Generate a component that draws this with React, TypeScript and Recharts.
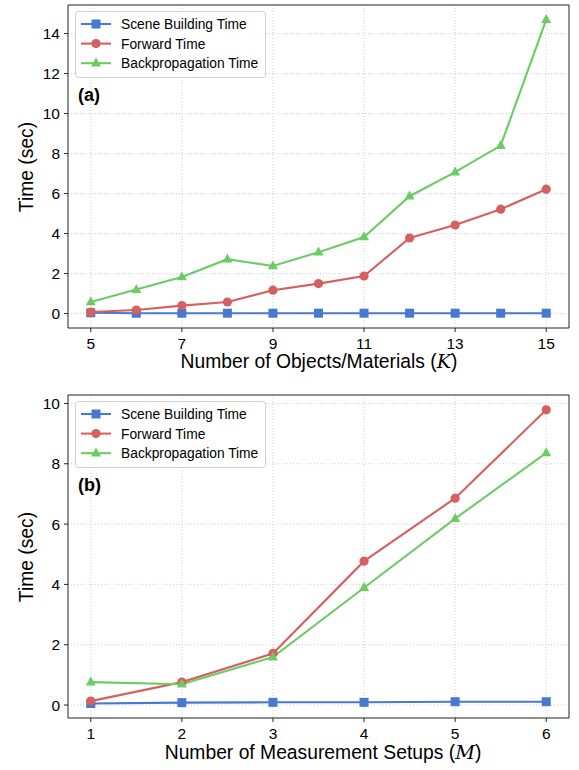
import React from 'react';
import { LineChart, Line, XAxis, YAxis, CartesianGrid, ReferenceLine } from 'recharts';

// ---- Panel (a): number of objects/materials K ----
const objectCounts = [5, 6, 7, 8, 9, 10, 11, 12, 13, 14, 15];
const sceneTimeA = [0.04, 0.02, 0.02, 0.02, 0.02, 0.02, 0.02, 0.02, 0.02, 0.02, 0.02];
const forwardTimeA = [0.08, 0.18, 0.4, 0.58, 1.17, 1.5, 1.88, 3.78, 4.43, 5.22, 6.22];
const backpropTimeA = [0.58, 1.2, 1.83, 2.72, 2.38, 3.07, 3.83, 5.87, 7.07, 8.4, 14.7];
const xTicksA = [5, 7, 9, 11, 13, 15];
const yTicksA = [0, 2, 4, 6, 8, 10, 12, 14];

// ---- Panel (b): number of measurement setups M ----
const setupCounts = [1, 2, 3, 4, 5, 6];
const sceneTimeB = [0.05, 0.08, 0.09, 0.09, 0.11, 0.11];
const forwardTimeB = [0.13, 0.76, 1.71, 4.77, 6.86, 9.79];
const backpropTimeB = [0.76, 0.69, 1.59, 3.89, 6.18, 8.36];
const xTicksB = [1, 2, 3, 4, 5, 6];
const yTicksB = [0, 2, 4, 6, 8, 10];

const seriesNames = ['Scene Building Time', 'Forward Time', 'Backpropagation Time'];

const BLUE = '#4878d0';
const RED = '#d65f5f';
const GREEN = '#6acc64';
const FONT = '"Liberation Sans", Arial, sans-serif';

const dataA = objectCounts.map((k, i) => ({
  x: k,
  scene: sceneTimeA[i],
  forward: forwardTimeA[i],
  backprop: backpropTimeA[i],
}));
const dataB = setupCounts.map((m, i) => ({
  x: m,
  scene: sceneTimeB[i],
  forward: forwardTimeB[i],
  backprop: backpropTimeB[i],
}));

const squareDot = (color: string) => (props: any) => {
  const { cx, cy, index } = props;
  if (cx == null || cy == null) return <g key={`s${index}`} />;
  return <rect key={`s${index}`} x={cx - 4.5} y={cy - 4.5} width={9} height={9} fill={color} />;
};
const circleDot = (color: string) => (props: any) => {
  const { cx, cy, index } = props;
  if (cx == null || cy == null) return <g key={`c${index}`} />;
  return <circle key={`c${index}`} cx={cx} cy={cy} r={4.6} fill={color} />;
};
const triDot = (color: string) => (props: any) => {
  const { cx, cy, index } = props;
  if (cx == null || cy == null) return <g key={`t${index}`} />;
  const r = 5.6;
  const pts = `${cx},${cy - r} ${cx - r * 0.9},${cy + r * 0.6} ${cx + r * 0.9},${cy + r * 0.6}`;
  return <polygon key={`t${index}`} points={pts} fill={color} />;
};

const TICK_FS = 15.5;
const FRAME = '#222';

const XTick = (props: any) => {
  const { x, y, payload } = props;
  return (
    <text x={x} y={y + 12} textAnchor="middle" fontSize={TICK_FS} fontFamily={FONT} fill="#000">
      {payload.value}
    </text>
  );
};
const YTick = (props: any) => {
  const { x, y, payload } = props;
  return (
    <text x={x} y={y + 5.5} textAnchor="end" fontSize={TICK_FS} fontFamily={FONT} fill="#000">
      {payload.value}
    </text>
  );
};

function Panel({ data, xDomain, xTicks, yDomain, yTicks }: any) {
  return (
    <LineChart
      width={579}
      height={380}
      data={data}
      margin={{ top: 5, right: 10, bottom: 18, left: 20 }}
    >
      <CartesianGrid
        stroke="#c8c8c8"
        strokeDasharray="1 2"
        strokeWidth={0.9}
        horizontalValues={yTicks}
        verticalValues={xTicks}
      />
      <XAxis
        dataKey="x"
        type="number"
        domain={xDomain}
        ticks={xTicks}
        allowDataOverflow
        tickSize={4}
        tickMargin={5}
        tick={<XTick />}
        stroke={FRAME}
        height={34}
        interval={0}
      />
      <YAxis
        type="number"
        domain={yDomain}
        ticks={yTicks}
        allowDataOverflow
        tickSize={4}
        tickMargin={4}
        tick={<YTick />}
        stroke={FRAME}
        width={48}
        interval={0}
      />
      <ReferenceLine y={yDomain[1]} stroke={FRAME} strokeWidth={1} ifOverflow="extendDomain" />
      <ReferenceLine x={xDomain[1]} stroke={FRAME} strokeWidth={1} ifOverflow="extendDomain" />
      <Line
        dataKey="scene"
        stroke={BLUE}
        strokeWidth={2.1}
        dot={squareDot(BLUE)}
        activeDot={false}
        isAnimationActive={false}
      />
      <Line
        dataKey="forward"
        stroke={RED}
        strokeWidth={2.1}
        dot={circleDot(RED)}
        activeDot={false}
        isAnimationActive={false}
      />
      <Line
        dataKey="backprop"
        stroke={GREEN}
        strokeWidth={2.1}
        dot={triDot(GREEN)}
        activeDot={false}
        isAnimationActive={false}
      />
    </LineChart>
  );
}

function LegendBox({ top }: { top: number }) {
  const rows = [
    { name: seriesNames[0], color: BLUE, kind: 'square' },
    { name: seriesNames[1], color: RED, kind: 'circle' },
    { name: seriesNames[2], color: GREEN, kind: 'tri' },
  ];
  return (
    <g>
      <rect x={75.5} y={top + 11.5} width={190} height={66} rx={3} fill="rgba(255,255,255,0.85)" stroke="#d0d0d0" />
      {rows.map((r, i) => {
        const cy = top + 24 + i * 19.6;
        const mx = 96;
        let marker;
        if (r.kind === 'square') marker = <rect x={mx - 4.5} y={cy - 4.5} width={9} height={9} fill={r.color} />;
        else if (r.kind === 'circle') marker = <circle cx={mx} cy={cy} r={4.6} fill={r.color} />;
        else {
          const rr = 5.6;
          marker = (
            <polygon
              points={`${mx},${cy - rr} ${mx - rr * 0.9},${cy + rr * 0.6} ${mx + rr * 0.9},${cy + rr * 0.6}`}
              fill={r.color}
            />
          );
        }
        return (
          <g key={r.name}>
            <line x1={81} x2={111} y1={cy} y2={cy} stroke={r.color} strokeWidth={2.1} />
            {marker}
            <text x={121} y={cy + 5} fontSize={13.8} fontFamily={FONT} fill="#000">
              {r.name}
            </text>
          </g>
        );
      })}
    </g>
  );
}

const axisLabel = 19.3;

export default function App() {
  return (
    <div style={{ position: 'absolute', left: 0, top: 0, width: 579, height: 770, background: '#fff' }}>
      <div style={{ position: 'absolute', left: 0, top: 0 }}>
        <Panel data={dataA} xDomain={[4.5, 15.5]} xTicks={xTicksA} yDomain={[-0.72, 15.43]} yTicks={yTicksA} />
      </div>
      <div style={{ position: 'absolute', left: 0, top: 390 }}>
        <Panel data={dataB} xDomain={[0.75, 6.25]} xTicks={xTicksB} yDomain={[-0.43, 10.28]} yTicks={yTicksB} />
      </div>
      <svg
        width={579}
        height={770}
        style={{ position: 'absolute', left: 0, top: 0, pointerEvents: 'none' }}
      >
        <LegendBox top={0} />
        <LegendBox top={390} />
        <text x={78} y={101} fontSize={18} fontWeight="bold" fontFamily={FONT} fill="#000">(a)</text>
        <text x={78} y={491} fontSize={18} fontWeight="bold" fontFamily={FONT} fill="#000">(b)</text>
        <text
          x={0}
          y={0}
          transform="translate(33,167) rotate(-90)"
          textAnchor="middle"
          fontSize={axisLabel}
          fontFamily={FONT}
          fill="#000"
        >
          Time (sec)
        </text>
        <text
          x={0}
          y={0}
          transform="translate(33,557) rotate(-90)"
          textAnchor="middle"
          fontSize={axisLabel}
          fontFamily={FONT}
          fill="#000"
        >
          Time (sec)
        </text>
        <text x={319} y={368} textAnchor="middle" fontSize={axisLabel} fontFamily={FONT} fill="#000">
          Number of Objects/Materials (<tspan fontStyle="italic" fontFamily='"DejaVu Serif", serif'>K</tspan>)
        </text>
        <text x={323} y={759} textAnchor="middle" fontSize={axisLabel} fontFamily={FONT} fill="#000">
          Number of Measurement Setups (<tspan fontStyle="italic" fontFamily='"DejaVu Serif", serif'>M</tspan>)
        </text>
      </svg>
    </div>
  );
}
